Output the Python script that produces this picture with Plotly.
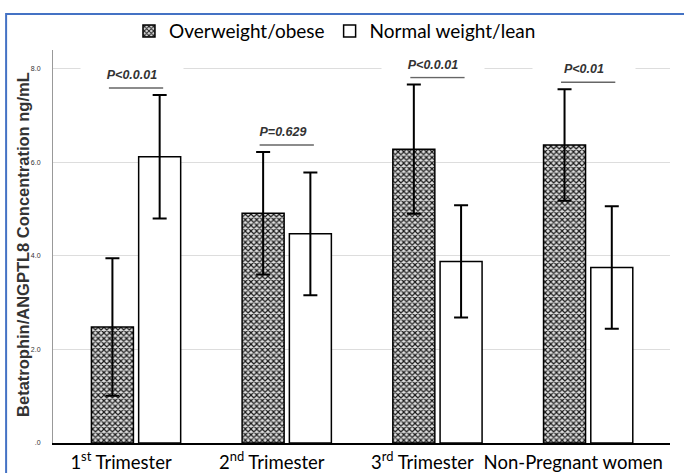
import plotly.graph_objects as go

categories = ["1<sup>st</sup> Trimester", "2<sup>nd</sup> Trimester",
              "3<sup>rd</sup> Trimester", "Non-Pregnant women"]
over_mean = [2.48, 4.91, 6.28, 6.37]
over_err = [1.47, 1.31, 1.38, 1.19]
normal_mean = [6.12, 4.47, 3.88, 3.75]
normal_err = [1.32, 1.31, 1.20, 1.31]
p_labels = ["P<0.0.01", "P=0.629", "P<0.0.01", "P<0.01"]
y_tickvals = [0, 2, 4, 6, 8]
y_ticktext = [".0", "2.0", "4.0", "6.0", "8.0"]
y_title = "Betatrophin/ANGPTL8 Concentration ng/mL"

fig = go.Figure()
fig.add_trace(go.Bar(
    name="Overweight/obese", x=categories, y=over_mean,
    error_y=dict(type="data", array=over_err, color="black", thickness=2, width=7),
    marker=dict(color="white", line=dict(color="black", width=1.5),
                pattern=dict(shape="x", size=4, solidity=0.5, fgcolor="#1a1a1a",
                             bgcolor="#e0e0e0", fillmode="replace")),
))
fig.add_trace(go.Bar(
    name="Normal weight/lean", x=categories, y=normal_mean,
    error_y=dict(type="data", array=normal_err, color="black", thickness=2, width=7),
    marker=dict(color="white", line=dict(color="black", width=1.5)),
))

# significance labels and underlines, placed from the data
for i, lab in enumerate(p_labels):
    top = max(over_mean[i] + over_err[i], normal_mean[i] + normal_err[i])
    yl = top + 0.15
    yt = yl + 0.28
    fig.add_shape(type="line", x0=i - 0.18, x1=i + 0.18, y0=yl, y1=yl,
                  xref="x", yref="y", line=dict(color="#666666", width=1.5))
    fig.add_annotation(x=i, y=yt, xref="x", yref="y", showarrow=False,
                       text="<b><i>" + lab.replace("<", "&lt;") + "</i></b>",
                       font=dict(family="Liberation Sans, Arial", size=12.5, color="#333333"),
                       bgcolor="white", width=100, height=20, xshift=-4)

# y-axis title
fig.add_annotation(x=-0.049, y=0.506, xref="paper", yref="paper", showarrow=False,
                   text="<b>" + y_title + "</b>", textangle=-90,
                   xanchor="center", yanchor="middle",
                   font=dict(family="Liberation Sans, Arial", size=16.5, color="#333333"))

# screenshot frame (blue border on top and left)
fig.add_shape(type="rect", xref="paper", yref="paper",
              x0=-0.076, x1=1.2, y0=-0.3, y1=1.0916,
              line=dict(color="#4472C4", width=2), layer="below")

fig.update_layout(
    width=684, height=473,
    margin=dict(l=53, r=14, t=50, b=30),
    paper_bgcolor="white", plot_bgcolor="white",
    barmode="group", bargap=0.373, bargroupgap=0.111,
    showlegend=True,
    legend=dict(orientation="h", x=0.457, y=1.048, xanchor="center", yanchor="middle",
                font=dict(family="Lato", size=19, color="black"),
                bgcolor="rgba(0,0,0,0)", traceorder="normal"),
    xaxis=dict(range=[-0.551, 3.543], showline=True, linecolor="black", linewidth=2,
               ticks="", showgrid=False, automargin=False,
               tickfont=dict(family="Lato", size=18.5, color="black"),
               ticklabelshift=-15, ticklabelstandoff=2),
    yaxis=dict(range=[0, 8.4], showline=True, linecolor="#999999", linewidth=1,
               tickvals=y_tickvals, ticktext=y_ticktext, ticks="",
               showgrid=True, gridcolor="#dddddd", gridwidth=1, zeroline=False,
               tickfont=dict(family="Liberation Sans, Arial", size=7, color="#333333"),
               ticklabelstandoff=10, automargin=False),
)

fig.write_html("out.html", config={"displayModeBar": False},
               post_script="document.body.style.margin='0px';")
